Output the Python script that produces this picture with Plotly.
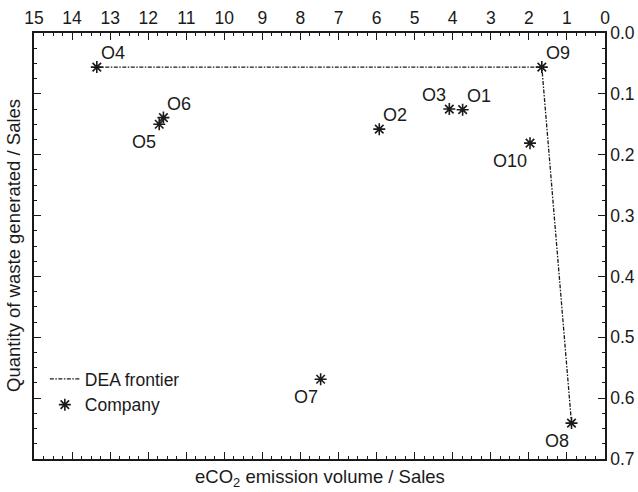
import plotly.graph_objects as go

# Company observations: eCO2 emission per sales (x) and waste per sales (y)
companies = ["O1", "O2", "O3", "O4", "O5", "O6", "O7", "O8", "O9", "O10"]
eco2_per_sales = [3.74, 5.93, 4.09, 13.35, 11.71, 11.60, 7.47, 0.88, 1.66, 1.97]
waste_per_sales = [0.126, 0.158, 0.125, 0.056, 0.150, 0.139, 0.569, 0.641, 0.056, 0.181]
label_positions = ["top right", "top right", "top left", "top right", "bottom left",
                   "top right", "bottom left", "bottom left", "top right", "bottom left"]

# DEA frontier passes through the efficient companies
frontier_names = ["O4", "O9", "O8"]
frontier_x = [eco2_per_sales[companies.index(n)] for n in frontier_names]
frontier_y = [waste_per_sales[companies.index(n)] for n in frontier_names]

ink = "#1a1a1a"
family = "Liberation Sans, Arial, sans-serif"
font = dict(family=family, size=18, color=ink)
tick_font = dict(family=family, size=17.5, color=ink)
title_font = dict(family=family, size=18.5, color=ink)

fig = go.Figure()
fig.add_trace(go.Scatter(
    x=frontier_x, y=frontier_y, mode="lines", name="DEA frontier",
    line=dict(color=ink, width=1.3, dash="4px,1.5px,1.5px,1.5px"),
))
fig.add_trace(go.Scatter(
    x=eco2_per_sales, y=waste_per_sales, mode="markers", name="Company",
    marker=dict(symbol="asterisk-open", size=10, color=ink,
                line=dict(color=ink, width=1.6)),
))

# Company name labels placed beside each marker
label_annotations = []
for name, x, y, pos in zip(companies, eco2_per_sales, waste_per_sales, label_positions):
    vert, horiz = pos.split()
    label_annotations.append(dict(
        text=name, x=x, y=y, xref="x", yref="y", showarrow=False, font=font,
        xanchor="left" if horiz == "right" else "right",
        yanchor="bottom" if vert == "top" else "top",
        xshift=2 if horiz == "right" else -1,
        yshift=2 if vert == "top" else -6,
    ))

axis_common = dict(
    showline=True, linecolor=ink, linewidth=1.5, mirror="ticks",
    ticks="inside", ticklen=7, tickwidth=1.2, tickcolor=ink,
    showgrid=False, zeroline=False, tickfont=tick_font, automargin=False,
)

fig.update_layout(
    width=638, height=492,
    margin=dict(l=34, r=33, t=33, b=33),
    paper_bgcolor="white", plot_bgcolor="white",
    font=font,
    showlegend=True,
    legend=dict(x=0.019, y=0.23, xanchor="left", yanchor="top",
                bgcolor="rgba(0,0,0,0)", font=dict(family=family, size=17.5, color=ink),
                tracegroupgap=0, itemwidth=30),
    xaxis=dict(range=[15, 0], side="top", dtick=1,
               minor=dict(ticks="inside", dtick=0.25, ticklen=3, tickcolor=ink),
               **axis_common),
    yaxis=dict(range=[0.7, 0], side="right", dtick=0.1, tickformat=".1f",
               minor=dict(ticks="inside", dtick=0.025, ticklen=3, tickcolor=ink),
               **axis_common),
    annotations=label_annotations + [
        dict(text="eCO<sub>2</sub> emission volume / Sales", xref="paper", yref="paper",
             x=0.5, y=0, yshift=-19, showarrow=False, font=title_font, yanchor="middle"),
        dict(text="Quantity of waste generated / Sales", xref="paper", yref="paper",
             x=0, y=0.5, xshift=-21, showarrow=False, font=title_font, textangle=-90,
             xanchor="center"),
    ],
)

fig.write_html("out.html")
